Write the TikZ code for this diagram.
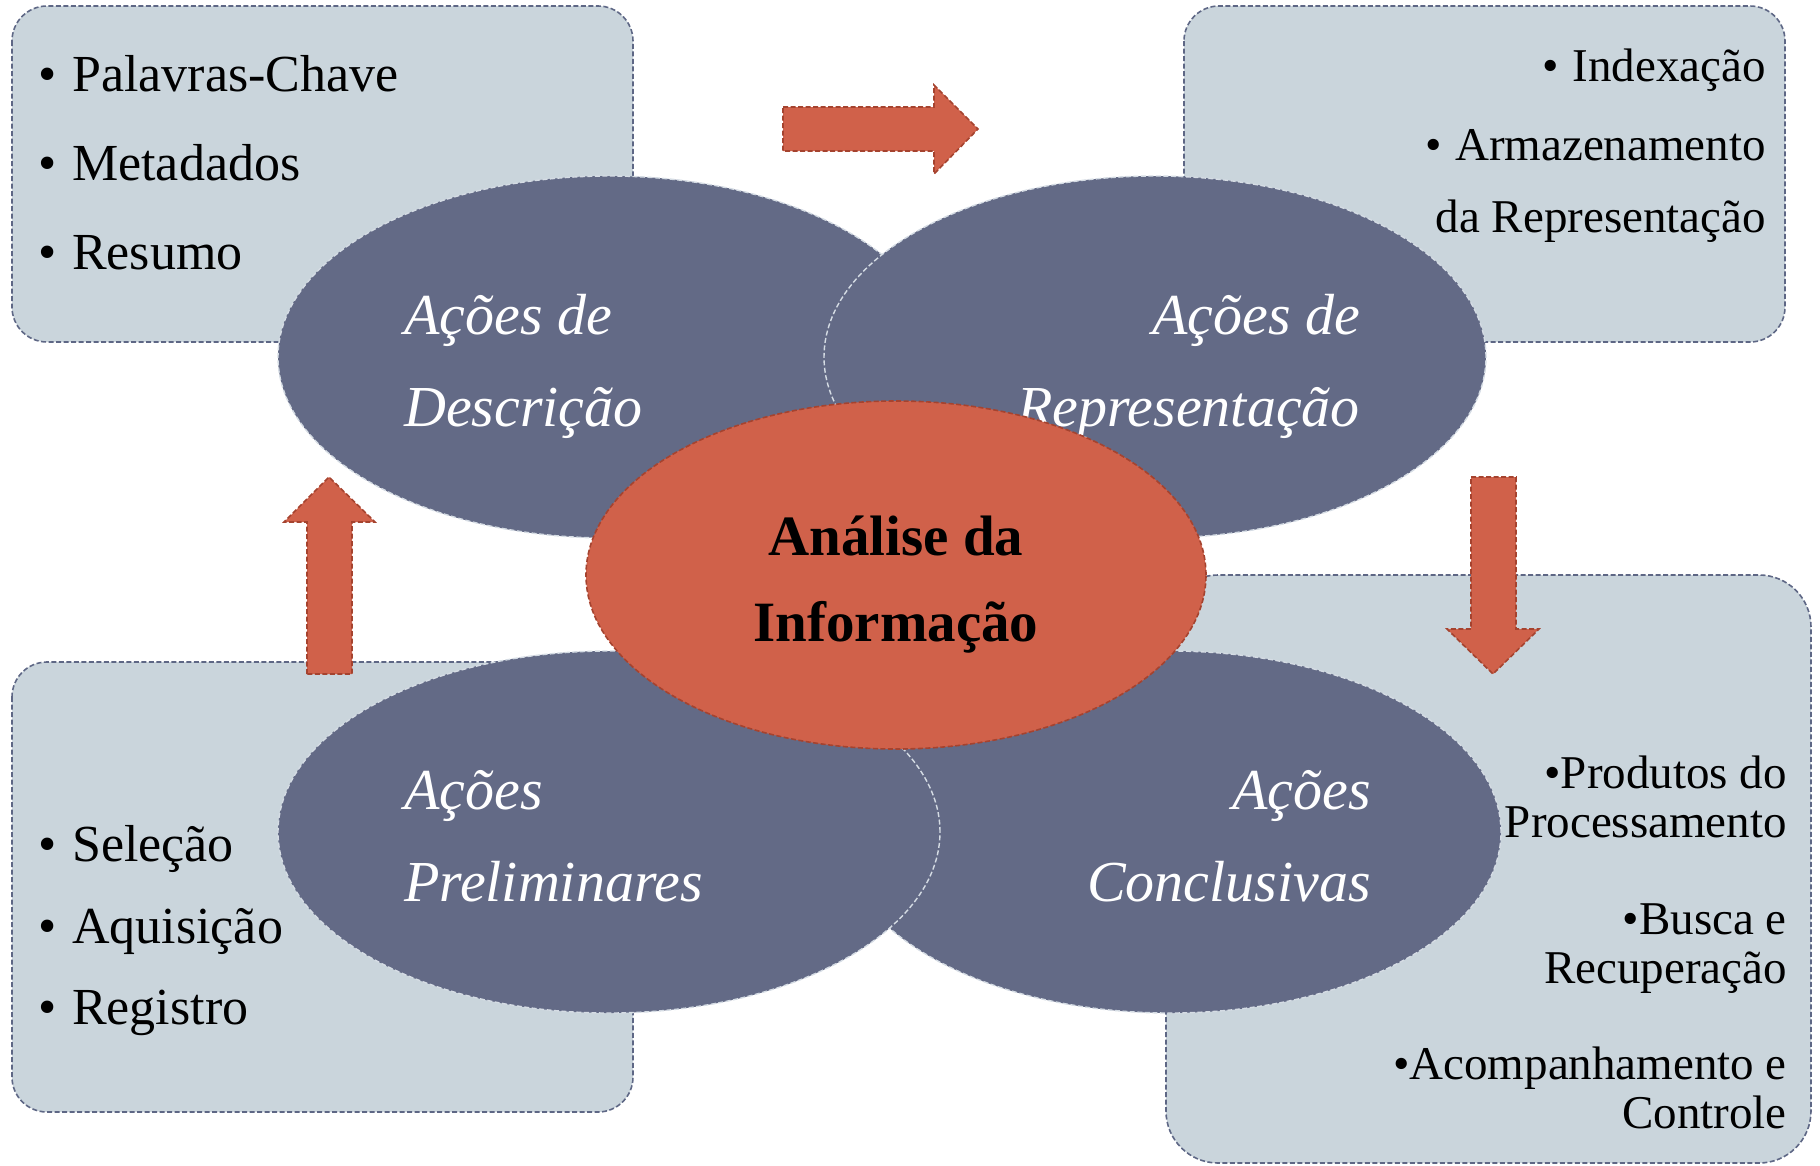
\documentclass[tikz,border=0pt]{standalone}
\usepackage{fontspec}
\setmainfont{Liberation Serif}
\usetikzlibrary{shapes.geometric}
\definecolor{boxfill}{HTML}{CAD5DC}
\definecolor{boxline}{HTML}{5E6785}
\definecolor{ellfill}{HTML}{636A86}
\definecolor{ellline}{HTML}{D5DCE4}
\definecolor{orfill}{HTML}{D0614A}
\definecolor{orline}{HTML}{A5432F}
\begin{document}
\begin{tikzpicture}[x=1pt,y=-1pt,
 infobox/.style={fill=boxfill,draw=boxline,line width=1.6pt,dash pattern=on 5pt off 2.5pt},
 actell/.style={ellipse,fill=ellfill,draw=ellline,line width=1.4pt,dash pattern=on 5pt off 2.5pt,minimum width=662pt,minimum height=362pt,inner sep=0pt},
 coreell/.style={ellipse,fill=orfill,draw=orline,line width=1.6pt,dash pattern=on 5pt off 2.5pt,minimum width=620pt,minimum height=348pt,inner sep=0pt},
 blockarrow/.style={fill=orfill,draw=orline,line width=1.6pt,dash pattern=on 5pt off 2.5pt},
 ltxt/.style={anchor=base west,inner sep=0pt,font=\fontsize{52}{60}\selectfont},
 rtxt/.style={anchor=base east,inner sep=0pt,font=\fontsize{47}{54}\selectfont},
 acttxt/.style={inner sep=0pt,text=white,font=\fontsize{58}{66}\selectfont\itshape},
 coretxt/.style={anchor=base,inner sep=0pt,font=\fontsize{57}{66}\selectfont\bfseries}]
\useasboundingbox (0,0) rectangle (1820,1165);
\clip (0,0) rectangle (1820,1165);
% boxes
\draw[infobox,rounded corners=35pt] (12,6) rectangle (633,342);
\draw[infobox,rounded corners=35pt] (1184,6) rectangle (1785,342);
\draw[infobox,rounded corners=35pt] (12,662) rectangle (633,1112);
\draw[infobox,rounded corners=52pt] (1166,575) rectangle (1811,1163);
% box texts
\node[ltxt] (tl1) at (38,91) {\makebox[34pt][l]{•}Palavras-Chave};
\node[ltxt] (tl2) at (38,180) {\makebox[34pt][l]{•}Metadados};
\node[ltxt] (tl3) at (38,269) {\makebox[34pt][l]{•}Resumo};
\node[rtxt] (tr1) at (1766,81) {\makebox[30pt][l]{•}Indexação};
\node[rtxt] (tr2) at (1766,160) {\makebox[30pt][l]{•}Armazenamento};
\node[rtxt] (tr3) at (1766,232) {da Representação};
\node[ltxt] (bl1) at (38,861) {\makebox[34pt][l]{•}Seleção};
\node[ltxt] (bl2) at (38,943) {\makebox[34pt][l]{•}Aquisição};
\node[ltxt] (bl3) at (38,1024) {\makebox[34pt][l]{•}Registro};
\node[rtxt] (br1) at (1787,788) {•Produtos do};
\node[rtxt] (br2) at (1787,837) {Processamento};
\node[rtxt] (br3) at (1787,934) {•Busca e};
\node[rtxt] (br4) at (1787,983) {Recuperação};
\node[rtxt] (br5) at (1787,1079) {•Acompanhamento e};
\node[rtxt] (br6) at (1787,1128) {Controle};
% arrows
\draw[blockarrow] (783,107) -- (934,107) -- (934,85) -- (978,129) -- (934,174) -- (934,151) -- (783,151) -- cycle;
\draw[blockarrow] (1471,477) -- (1516,477) -- (1516,629) -- (1539,629) -- (1493,674) -- (1447,629) -- (1471,629) -- cycle;
\draw[blockarrow] (307,674) -- (307,522) -- (284,522) -- (329,477) -- (375,522) -- (352,522) -- (352,674) -- cycle;
% ellipses
\node[actell] (desc) at (609,357) {};
\node[acttxt,anchor=base west] (desct1) at (404,334) {Ações de};
\node[acttxt,anchor=base west] (desct2) at (404,426) {Descrição};
\node[actell] (repr) at (1155,357) {};
\node[acttxt,anchor=base east] (reprt1) at (1360,334) {Ações de};
\node[acttxt,anchor=base east] (reprt2) at (1360,426) {Representação};
\node[actell] (concl) at (1170,832) {};
\node[acttxt,anchor=base east] (conclt1) at (1371,809) {Ações};
\node[acttxt,anchor=base east] (conclt2) at (1371,901) {Conclusivas};
\node[actell] (prel) at (609,832) {};
\node[acttxt,anchor=base west] (prelt1) at (404,809) {Ações};
\node[acttxt,anchor=base west] (prelt2) at (404,901) {Preliminares};
\node[coreell] (core) at (896,575) {};
\node[coretxt] (coret1) at (896,555) {Análise da};
\node[coretxt] (coret2) at (896,641) {Informação};
\end{tikzpicture}
\end{document}
